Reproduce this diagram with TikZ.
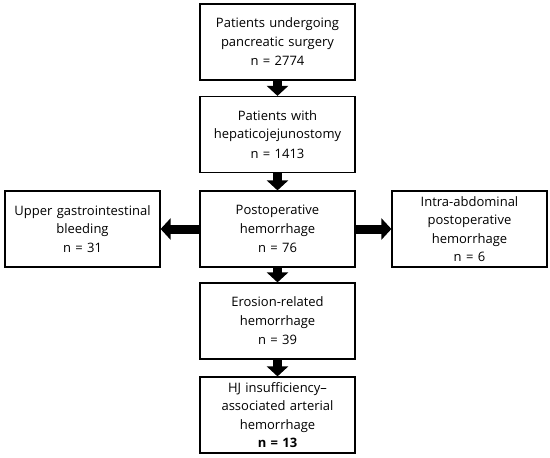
\documentclass[tikz,border=0pt]{standalone}
\usepackage{fontspec}
\setmainfont{Open Sans}
\usepackage{tikz}
\usetikzlibrary{arrows.meta, positioning}

\begin{document}
\begin{tikzpicture}[
  x=1pt, y=-1pt,
  font=\fontsize{13}{18.5}\selectfont,
  box/.style={draw=black, line width=1.2pt, align=center, minimum width=155pt, minimum height=76pt, inner sep=2pt, text width=150pt, fill=white},
  fat/.style={-{Triangle[width=21pt, length=10pt]}, line width=9pt, draw=black}
]
\useasboundingbox (0,0) rectangle (550,458);

\node[box] (surgery) at (277.5,42) {Patients undergoing\\pancreatic surgery\\[1pt]n = 2774};
\node[box] (hj) at (277.5,134.5) {Patients with\\hepaticojejunostomy\\[1pt]n = 1413};
\node[box] (pph) at (277.5,229) {Postoperative\\hemorrhage\\[1pt]n = 76};
\node[box] (ugib) at (82.5,229) {Upper gastrointestinal\\bleeding\\n = 31};
\node[box] (intra) at (469.5,229) {Intra-abdominal\\postoperative\\hemorrhage\\n = 6};
\node[box] (erosion) at (277.5,321) {Erosion-related\\hemorrhage\\[1pt]n = 39};
\node[box] (hjia) at (277.5,415) {HJ insufficiency--\\associated arterial\\hemorrhage\\\textbf{n = 13}};

\draw[fat] (surgery) -- (hj);
\draw[fat] (hj) -- (pph);
\draw[fat] (pph) -- (ugib);
\draw[fat] (pph) -- (intra);
\draw[fat] (pph) -- (erosion);
\draw[fat] (erosion) -- (hjia);
\end{tikzpicture}
\end{document}
